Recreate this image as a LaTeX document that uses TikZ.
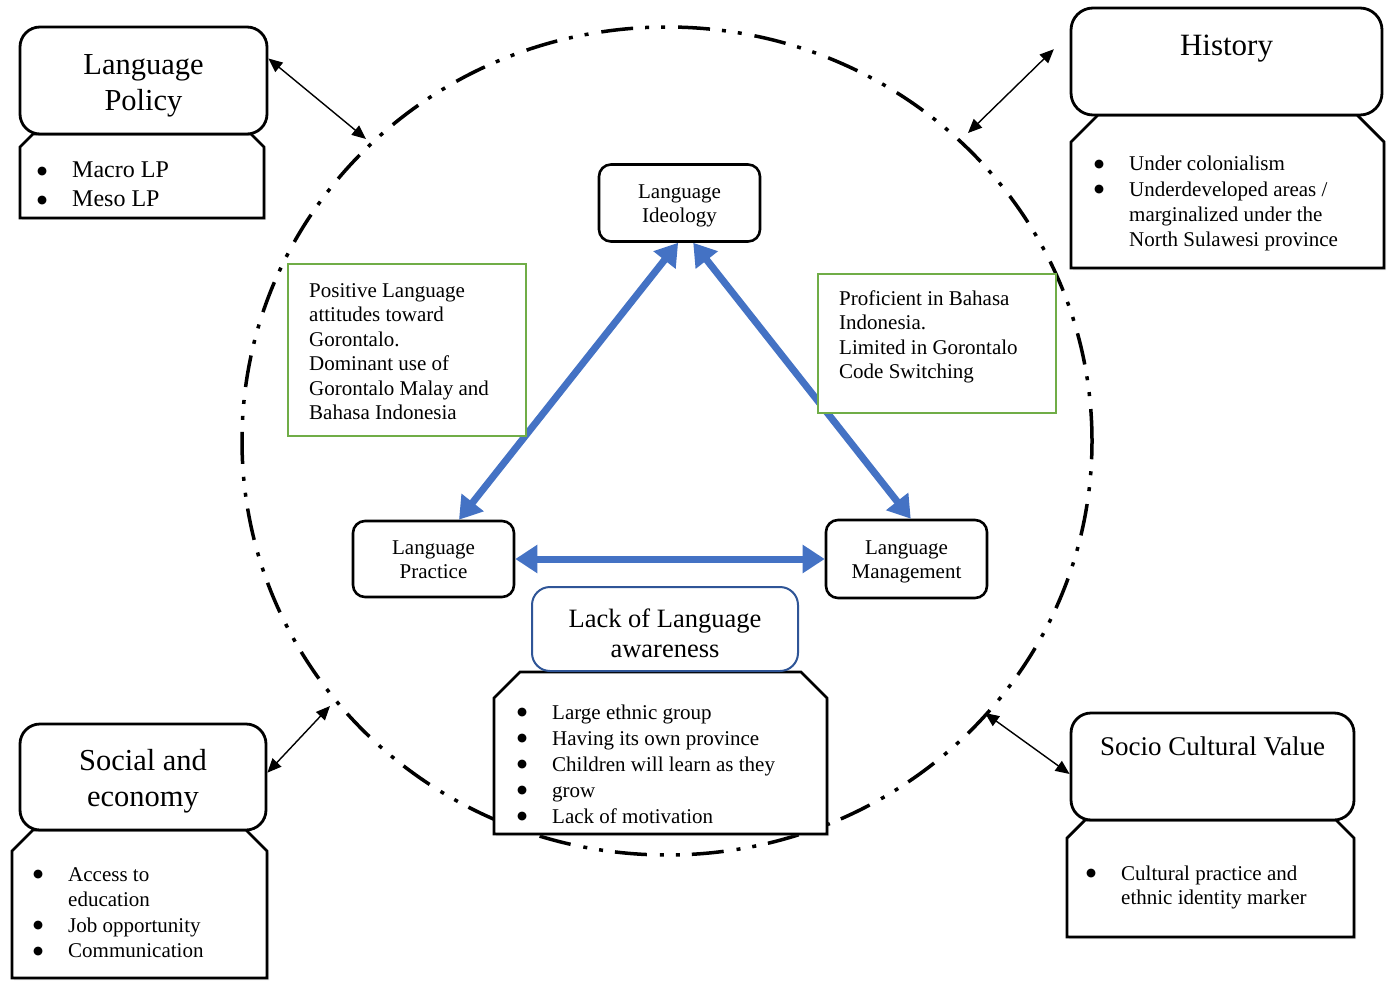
\documentclass[tikz,border=0pt]{standalone}
\usepackage{fontspec}
\setmainfont{Liberation Serif}
\newfontfamily\dotfont{DejaVu Sans}
\usetikzlibrary{arrows.meta,shapes.geometric,shadows,calc}
\definecolor{arrowblue}{HTML}{4472C4}
\definecolor{notegreen}{HTML}{70AD47}
\definecolor{frameblue}{HTML}{2F5597}
% font size in one go
\newcommand\setfs[2]{\fontsize{#1}{#2}\selectfont}
% bullet with a fixed hanging indent
\newcommand\itemdot{\makebox[35pt][l]{\raisebox{3.5pt}{\dotfont\fontsize{11.5}{11.5}\selectfont ●}}}
\newcommand\hang{\hspace*{35pt}}
% two centred lines, pushed slightly down inside their box
\newcommand\twolines[2]{\begin{tabular}{@{}c@{}}\rule{0pt}{23pt}#1\\#2\end{tabular}}
% lower panel with chamfered top corners: x1, y1, x2, y2, chamfer
\newcommand\lowpanel[5]{%
  \draw[panel] ({#1+#5},#2) -- ({#3-#5},#2) -- (#3,{#2+#5}) -- (#3,#4) -- (#1,#4) -- (#1,{#2+#5}) -- cycle;}

\begin{document}
\begin{tikzpicture}[x=1pt,y=-1pt,
  ring/.style={draw, ellipse, line width=3.5pt,
    dash pattern=on 32pt off 13pt on 4pt off 12pt on 4pt off 12pt,
    minimum width=850pt, minimum height=828pt, inner sep=0pt},
  panel/.style={draw, fill=white, line width=2.8pt, line join=miter,
    drop shadow={shadow xshift=2pt, shadow yshift=-2pt, opacity=0.22}},
  headbox/.style={draw, fill=white, line width=2.8pt, rounded corners=20pt, inner sep=0pt},
  core/.style={draw, fill=white, line width=2.6pt, rounded corners=12pt,
    minimum width=161pt, minimum height=77pt, inner sep=0pt,
    font=\setfs{21}{24}},
  note/.style={draw=notegreen, fill=white, line width=2.6pt, inner sep=0pt},
  link/.style={line width=1.4pt, >={Triangle[length=14pt,width=12pt]}, <->},
  flow/.style={draw=arrowblue, line width=7pt, >={Triangle[length=22pt,width=27pt]}, <->},
  txt/.style={inner sep=0pt, anchor=base west},
  ttl/.style={inner sep=0pt, anchor=base},
]
\fill[white] (0,0) rectangle (1388,984);
\useasboundingbox (0,0) rectangle (1388,984);

% dash-dotted ring
\node[ring] (ring) at (667,441) {};

% lower panels
\lowpanel{20}{134}{264}{218}{13}
\lowpanel{1071}{115}{1384}{268}{27}
\lowpanel{12}{830}{267}{978}{21}
\lowpanel{1067}{820}{1354}{937}{18}
\lowpanel{494}{672}{827}{834}{26}

% heading boxes
\node[headbox, minimum width=247pt, minimum height=107pt] (lp) at (143.5,80.5) {};
\node[headbox, minimum width=311pt, minimum height=107pt, rounded corners=22pt] (hist) at (1226.5,61.5) {};
\node[headbox, minimum width=246pt, minimum height=106pt] (soc) at (143,777) {};
\node[headbox, minimum width=283pt, minimum height=107pt] (cult) at (1212.5,766.5) {};
\node[headbox, draw=frameblue, line width=2pt, rounded corners=18pt,
      minimum width=266pt, minimum height=84pt] (lack) at (665,629) {};

% inner triangle
\node[core] (ideo) at (679.5,203) {\twolines{Language}{Ideology}};
\node[core, minimum height=76pt] (prac) at (433.5,559) {\twolines{Language}{Practice}};
\node[core, minimum height=78pt] (mgmt) at (906.5,559) {\twolines{Language}{Management}};

% links between the outer factors and the ring
\coordinate (lpR) at (366,139);
\coordinate (histR) at (968,133);
\coordinate (socR) at (330,706);
\coordinate (cultR) at (985,713);
\draw[link] (lp.10.7) -- (lpR);
\draw[link, shorten >=22pt] (histR) -- (hist.170.7);
\draw[link] (socR) -- (soc.2.8);
\draw[link] (cultR) -- (cult.183.8);

% triangle arrows
\draw[flow] (ideo.268) -- (prac.57.2);
\draw[flow] (ideo.289.1) -- (mgmt.84.9);
\draw[flow] (prac.east) -- (mgmt.west);

% green notes
\node[note, minimum width=238pt, minimum height=172pt] (gl) at (407,350) {};
\node[note, minimum width=238pt, minimum height=139pt] (gr) at (937,343.5) {};
\node[txt, font=\setfs{21}{24.5}] (glT) at (309,297) {\begin{tabular}[t]{@{}l@{}}Positive Language\\attitudes toward\\Gorontalo.\\Dominant use of\\Gorontalo Malay and\\Bahasa Indonesia\end{tabular}};
\node[txt, font=\setfs{21}{24.5}] (grT) at (839,305) {\begin{tabular}[t]{@{}l@{}}Proficient in Bahasa\\Indonesia.\\Limited in Gorontalo\\Code Switching\end{tabular}};

% headings
\node[ttl, font=\setfs{30.5}{35.5}] (lpT) at (143.5,75) {\begin{tabular}[t]{@{}c@{}}Language\\Policy\end{tabular}};
\node[ttl, font=\setfs{31}{36}] (histT) at (1226.5,56) {History};
\node[ttl, font=\setfs{30.5}{36}] (socT) at (143,770) {\begin{tabular}[t]{@{}c@{}}Social and\\economy\end{tabular}};
\node[ttl, font=\setfs{27}{30}] (cultT) at (1212.5,755) {Socio Cultural Value};
\node[ttl, font=\setfs{26.5}{30}] (lackT) at (665,627) {\begin{tabular}[t]{@{}c@{}}Lack of Language\\awareness\end{tabular}};

% bullet lists
\node[txt, font=\setfs{24}{29}] (lpL) at (37,178) {\begin{tabular}[t]{@{}l@{}}\itemdot Macro LP\\\itemdot Meso LP\end{tabular}};
\node[txt, font=\setfs{21}{25.3}] (histL) at (1094,171) {\begin{tabular}[t]{@{}l@{}}\itemdot Under colonialism\\\itemdot Underdeveloped areas /\\\hang marginalized under the\\\hang North Sulawesi province\end{tabular}};
\node[txt, font=\setfs{21}{25.6}] (socL) at (33,881) {\begin{tabular}[t]{@{}l@{}}\itemdot Access to\\\hang education\\\itemdot Job opportunity\\\itemdot Communication\end{tabular}};
\node[txt, font=\setfs{21}{26}] (lackL) at (517,719) {\begin{tabular}[t]{@{}l@{}}\itemdot Large ethnic group\\\itemdot Having its own province\\\itemdot Children will learn as they\\\itemdot grow\\\itemdot Lack of motivation\end{tabular}};
\node[txt, font=\setfs{21}{24.5}] (cultL) at (1086,880) {\begin{tabular}[t]{@{}l@{}}\itemdot Cultural practice and\\\hang ethnic identity marker\end{tabular}};
\end{tikzpicture}
\end{document}
